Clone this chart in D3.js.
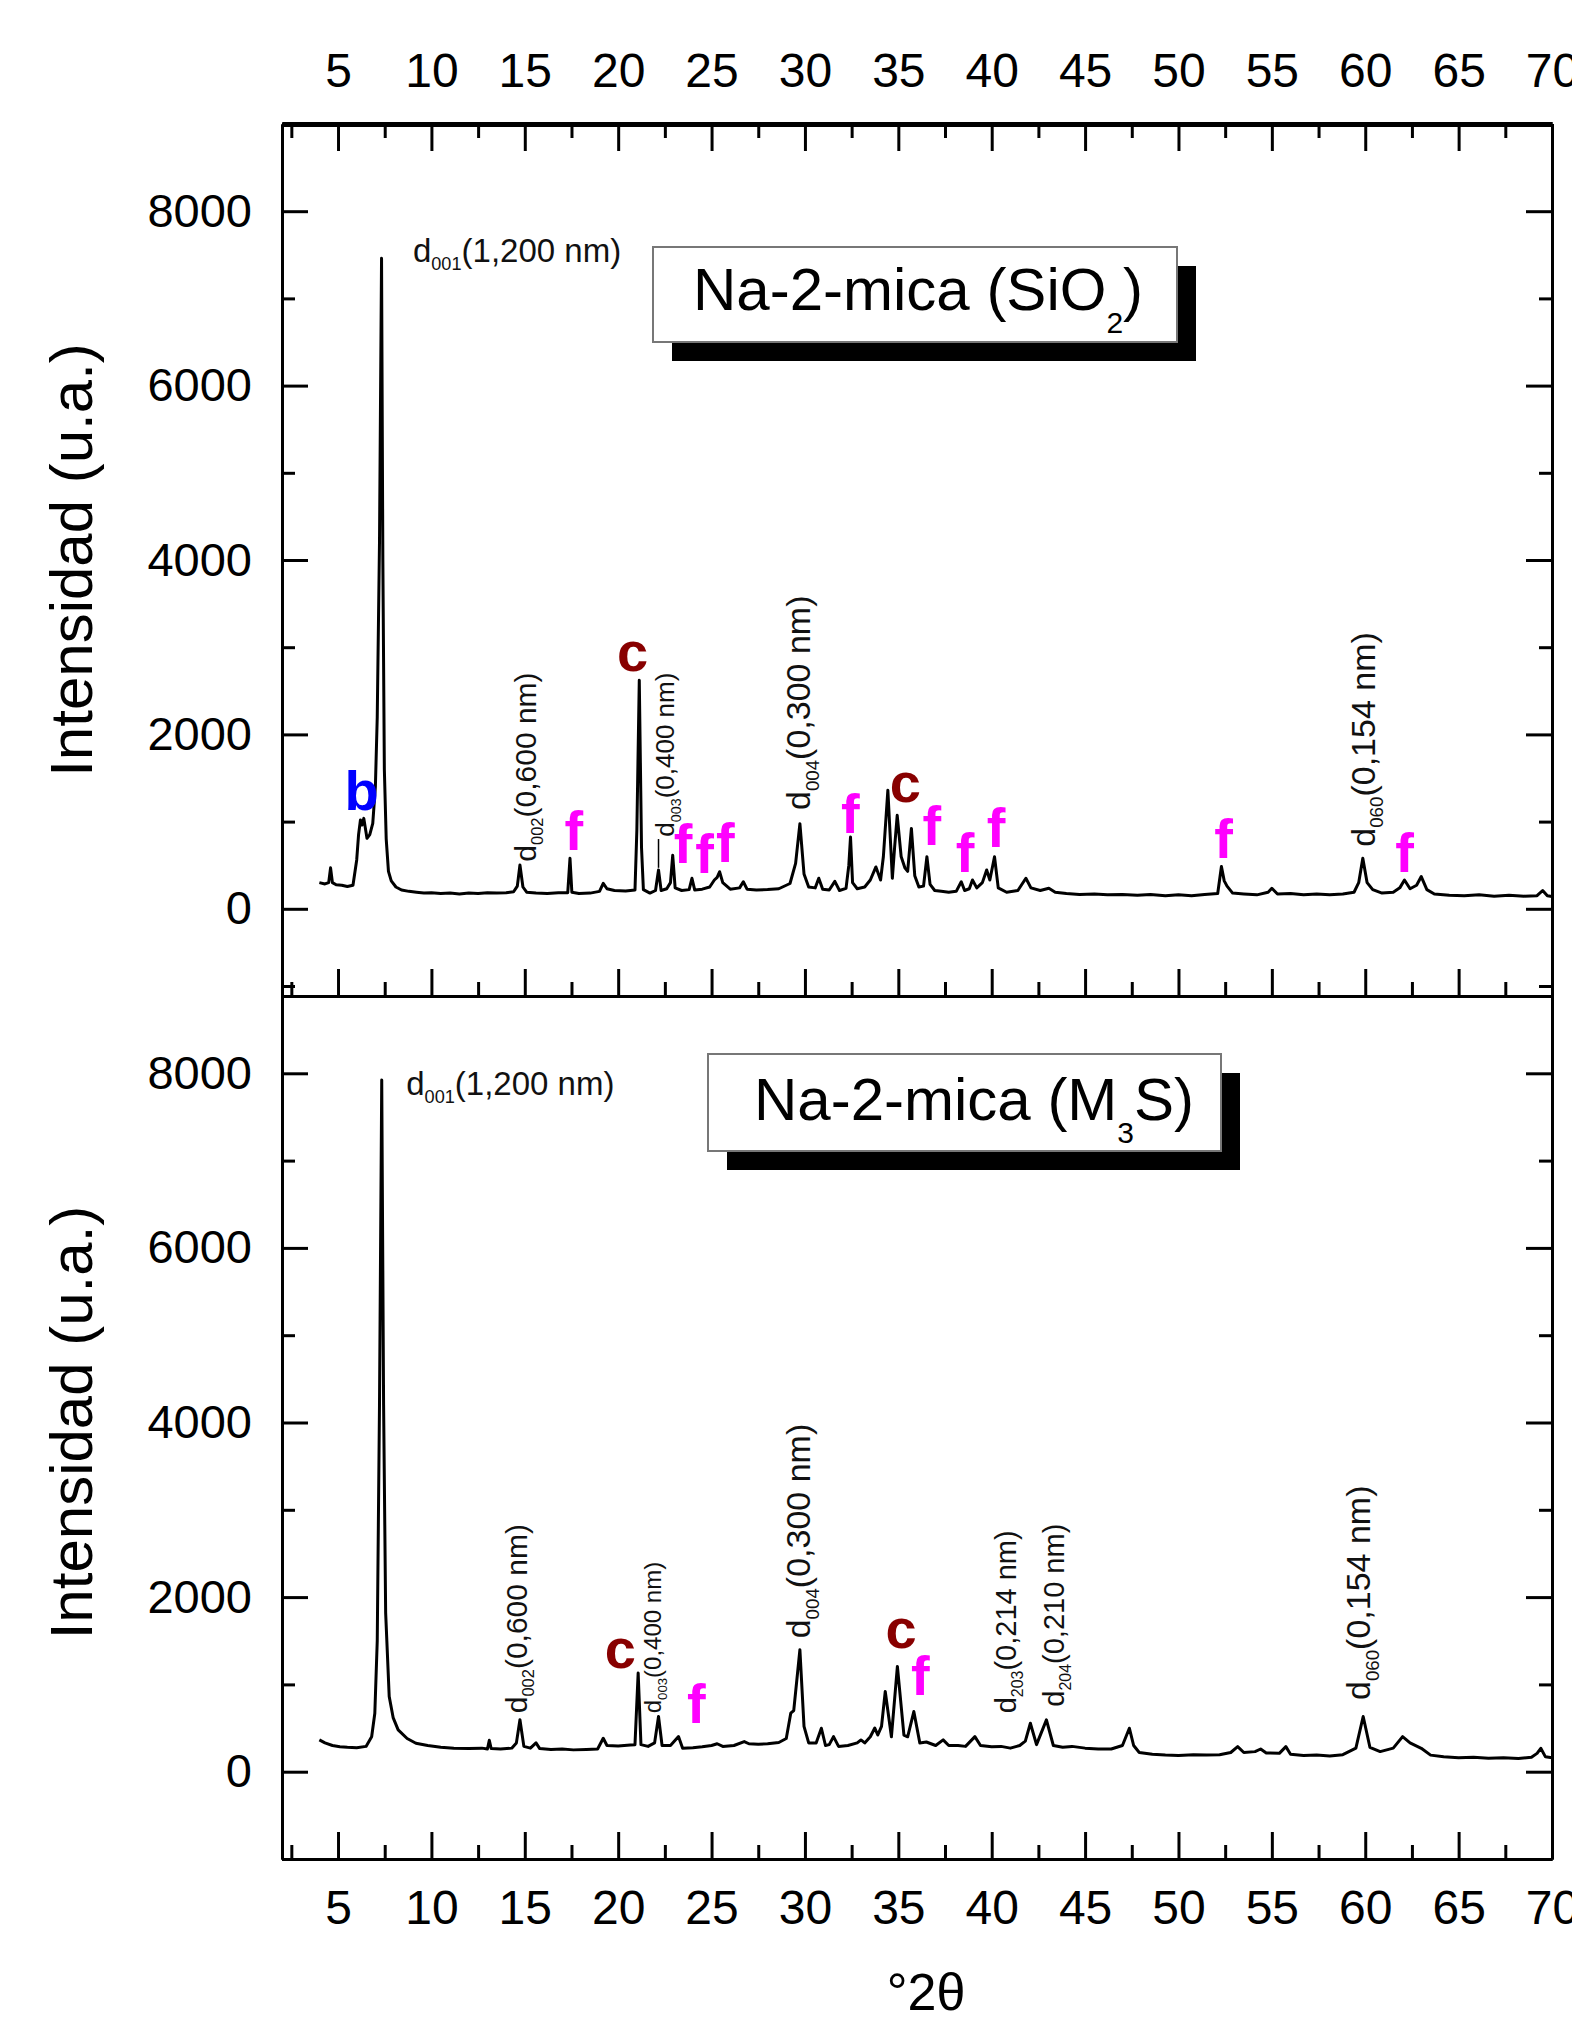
<!DOCTYPE html>
<html>
<head>
<meta charset="utf-8">
<script src="https://cdn.jsdelivr.net/npm/d3@7"></script>
<style>
  body { margin: 0; background: #fff; }
  svg { display: block; font-family: "Liberation Sans", Arial, sans-serif; }
</style>
</head>
<body>
<svg id="chart" width="1572" height="2023"></svg>
<script>
// XRD patterns: [°2θ, intensity]
const topPattern = [
  [4.0,300],[4.3,285],[4.5,300],[4.6,470],[4.7,300],[4.9,275],[5.2,270],[5.5,255],[5.8,270],[6.0,560],
  [6.1,850],[6.2,1018],[6.28,960],[6.38,1037],[6.55,808],[6.7,850],[6.86,980],[7.0,1400],[7.1,2200],[7.22,4200],
  [7.33,7460],[7.4,4000],[7.48,1600],[7.58,800],[7.7,430],[7.85,320],[8.1,250],[8.4,215],[8.8,200],[9.2,190],
  [9.6,180],[10.0,185],[10.5,175],[11.0,180],[11.5,170],[12.0,180],[12.5,175],[13.0,185],[13.5,180],[14.0,185],
  [14.4,195],[14.6,260],[14.74,502],[14.9,250],[15.1,190],[15.6,180],[16.2,175],[16.8,185],[17.3,185],[17.42,579],
  [17.52,190],[17.9,175],[18.5,180],[19.0,200],[19.2,292],[19.4,230],[19.8,210],[20.4,205],[20.9,215],[21.0,900],
  [21.13,2620],[21.25,700],[21.35,220],[21.7,180],[22.0,210],[22.16,445],[22.3,210],[22.6,230],[22.8,300],[22.92,613],
  [23.05,240],[23.4,210],[23.8,220],[23.95,350],[24.1,215],[24.5,225],[24.9,250],[25.15,330],[25.3,360],[25.43,425],
  [25.6,300],[26.0,225],[26.5,240],[26.7,310],[26.9,225],[27.4,215],[28.0,220],[28.6,230],[29.2,290],[29.5,520],
  [29.73,976],[29.95,400],[30.2,250],[30.55,240],[30.74,350],[30.95,225],[31.3,215],[31.6,315],[31.85,210],[32.2,235],
  [32.35,500],[32.44,823],[32.55,300],[32.8,230],[33.2,250],[33.5,330],[33.8,480],[34.05,330],[34.2,600],[34.44,1360],
  [34.68,350],[34.8,700],[34.94,1072],[35.15,600],[35.35,470],[35.5,430],[35.7,922],[35.88,380],[36.1,250],[36.35,260],
  [36.53,597],[36.7,280],[36.95,210],[37.3,200],[37.7,190],[38.1,200],[38.37,310],[38.55,210],[38.8,230],[38.97,330],
  [39.2,240],[39.5,300],[39.73,445],[39.9,330],[40.15,597],[40.35,240],[40.8,190],[41.4,210],[41.83,350],[42.1,240],
  [42.6,210],[43.06,235],[43.4,190],[44.0,175],[44.7,165],[45.5,170],[46.2,160],[47.0,165],[47.8,155],[48.5,165],
  [49.3,150],[50.0,160],[50.7,150],[51.4,165],[52.1,175],[52.3,485],[52.45,320],[52.6,260],[52.9,180],[53.5,170],
  [54.2,160],[54.8,190],[55.0,235],[55.3,170],[56.0,175],[56.7,160],[57.4,170],[58.1,160],[58.8,170],[59.4,190],
  [59.65,300],[59.87,580],[60.1,300],[60.4,220],[60.9,180],[61.5,190],[61.85,240],[62.1,330],[62.4,230],[62.75,270],
  [63.0,370],[63.3,220],[63.7,170],[64.5,155],[65.3,150],[66.1,160],[66.9,145],[67.7,155],[68.5,145],[69.2,150],
  [69.5,210],[69.75,150],[70.0,140]
];

const bottomPattern = [
  [4.0,364],[4.3,330],[4.7,300],[5.1,287],[5.5,280],[6.0,275],[6.5,290],[6.8,400],[6.97,670],[7.1,1500],
  [7.22,4200],[7.34,7924],[7.44,4200],[7.55,1820],[7.74,861],[7.95,620],[8.22,479],[8.7,380],[9.17,326],[9.8,300],
  [10.5,280],[11.2,270],[12.0,265],[12.7,270],[13.0,260],[13.1,360],[13.2,265],[13.7,260],[14.3,270],[14.55,330],
  [14.74,594],[14.95,290],[15.3,270],[15.6,330],[15.8,265],[16.4,255],[17.0,260],[17.6,250],[18.3,255],[18.9,260],
  [19.2,383],[19.4,300],[20.0,295],[20.65,306],[20.9,310],[21.07,1130],[21.22,310],[21.6,290],[21.95,330],[22.16,632],
  [22.35,300],[22.8,300],[23.23,402],[23.45,270],[24.0,275],[24.5,285],[25.0,300],[25.3,320],[25.6,290],[26.2,300],
  [26.75,345],[27.0,320],[27.5,315],[28.0,320],[28.6,335],[29.0,380],[29.24,670],[29.4,700],[29.73,1397],[29.95,520],
  [30.2,330],[30.6,330],[30.88,498],[31.1,300],[31.3,310],[31.53,402],[31.8,290],[32.3,300],[32.8,330],[33.0,364],
  [33.2,330],[33.5,400],[33.74,500],[33.9,420],[34.1,520],[34.3,919],[34.63,400],[34.95,1206],[35.3,420],[35.5,400],
  [35.83,689],[36.15,330],[36.5,340],[37.0,300],[37.4,364],[37.7,300],[38.2,300],[38.6,290],[39.1,402],[39.4,300],
  [40.0,285],[40.5,290],[41.0,270],[41.5,300],[41.8,350],[42.07,555],[42.4,310],[42.93,594],[43.3,300],[43.8,280],
  [44.3,290],[45.0,270],[45.7,260],[46.4,260],[47.0,300],[47.37,498],[47.6,300],[47.9,220],[48.6,200],[49.3,190],
  [50.0,185],[50.8,195],[51.5,190],[52.2,195],[52.8,220],[53.17,287],[53.5,220],[54.1,230],[54.4,260],[54.7,215],
  [55.4,210],[55.75,287],[56.0,200],[56.7,185],[57.4,190],[58.1,180],[58.8,195],[59.5,270],[59.89,632],[60.25,280],
  [60.8,230],[61.5,270],[62.0,402],[62.4,330],[63.0,268],[63.5,190],[64.2,170],[65.0,160],[65.8,165],[66.6,155],
  [67.4,160],[68.2,150],[68.9,165],[69.2,210],[69.4,268],[69.65,170],[70.0,160]
];

// axis ticks
const xMajorTicks = [5,10,15,20,25,30,35,40,45,50,55,60,65,70];
const xMinorTicks = [2.5,7.5,12.5,17.5,22.5,27.5,32.5,37.5,42.5,47.5,52.5,57.5,62.5,67.5];
const yMajorTicks = [0,2000,4000,6000,8000];
const yMinorTicks = [-1000,1000,3000,5000,7000,9000];

// panel titles: [before subscript, subscript, after]
const topTitle = ["Na-2-mica (SiO", "2", ")"];
const bottomTitle = ["Na-2-mica (M", "3", "S)"];

// reflection labels: [°2θ, intensity, hkl, spacing, rotated]
const topReflections = [
  [9.01, 7421, "001", "(1,200 nm)", false],
  [15.58, 540, "002", "(0,600 nm)", true],
  [22.99, 827, "003", "(0,400 nm)", true],
  [30.28, 1133, "004", "(0,300 nm)", true],
  [60.51, 712, "060", "(0,154 nm)", true]
];
const topReflectionSizes = [33, 30, 26, 34, 34];
// leader from the d003 label down to its peak: [°2θ, from, to]
const topLeaders = [[22.16, 470, 800]];

const bottomReflections = [
  [8.65, 7751, "001", "(1,200 nm)", false],
  [15.1, 669, "002", "(0,600 nm)", true],
  [22.27, 669, "003", "(0,400 nm)", true],
  [30.28, 1528, "004", "(0,300 nm)", true],
  [41.28, 669, "203", "(0,214 nm)", true],
  [43.87, 745, "204", "(0,210 nm)", true],
  [60.26, 821, "060", "(0,154 nm)", true]
];
const bottomReflectionSizes = [33, 30, 24, 34, 29, 29, 34];

// phase marks: [°2θ, intensity, letter]
const topPhases = [
  [6.26,1133,"b"],[17.62,674,"f"],[20.77,2731,"c"],[23.47,522,"f"],[24.62,407,"f"],[25.74,540,"f"],
  [32.43,866,"f"],[35.37,1228,"c"],[36.79,732,"f"],[38.57,425,"f"],[40.24,712,"f"],[52.42,579,"f"],[62.11,425,"f"]
];
const bottomPhases = [[20.12,1184,"c"],[24.18,554,"f"],[35.15,1413,"c"],[36.18,879,"f"]];
const phaseColor = { b: "#0000ff", c: "#880000", f: "#ff00ff" };

const svg = d3.select('#chart');
const x = d3.scaleLinear().domain([2, 70]).range([282, 1552]);
const yTop = d3.scaleLinear().domain([-1000, 9000]).range([996, 124]);
const yBot = d3.scaleLinear().domain([-1000, 9000]).range([1859, 986]);

function styleAxis(g, width) {
    g.selectAll('path').attr('stroke', '#000').attr('stroke-width', width);
    g.selectAll('line').attr('stroke', '#000').attr('stroke-width', 3);
    g.selectAll('text').attr('fill', '#000').attr('font-family', '"Liberation Sans", Arial, sans-serif');
}

function drawPanel(y, pattern, reflections, sizes, leaders, phases, title, box, opts) {
    const g = svg.append('g');
    const x0 = x.range()[0], x1 = x.range()[1];
    const yb = y.range()[0], yt = y.range()[1];

    // left axis with labels
    const left = g.append('g').attr('transform', `translate(${x0},0)`)
        .call(d3.axisLeft(y).tickValues(yMajorTicks).tickSize(-26).tickSizeOuter(0).tickPadding(30).tickFormat(d3.format('d')));
    left.selectAll('text').attr('font-size', 47);
    styleAxis(left, 3);
    const leftMinor = g.append('g').attr('transform', `translate(${x0},0)`)
        .call(d3.axisLeft(y).tickValues(yMinorTicks).tickSize(-13).tickSizeOuter(0).tickFormat(''));
    styleAxis(leftMinor, 3);

    // right axis, ticks only
    const right = g.append('g').attr('transform', `translate(${x1},0)`)
        .call(d3.axisRight(y).tickValues(yMajorTicks).tickSize(-26).tickSizeOuter(0).tickFormat(''));
    styleAxis(right, 3);
    const rightMinor = g.append('g').attr('transform', `translate(${x1},0)`)
        .call(d3.axisRight(y).tickValues(yMinorTicks).tickSize(-13).tickSizeOuter(0).tickFormat(''));
    styleAxis(rightMinor, 3);

    // bottom axis
    const bottom = g.append('g').attr('transform', `translate(0,${yb})`)
        .call(d3.axisBottom(x).tickValues(xMajorTicks).tickSize(-27).tickSizeOuter(0).tickPadding(31)
            .tickFormat(opts.bottomLabels ? d3.format('d') : ''));
    bottom.selectAll('text').attr('font-size', 48);
    styleAxis(bottom, 3);
    const bottomMinor = g.append('g').attr('transform', `translate(0,${yb})`)
        .call(d3.axisBottom(x).tickValues(xMinorTicks).tickSize(-14).tickSizeOuter(0).tickFormat(''));
    styleAxis(bottomMinor, 3);

    // top axis (only the upper panel shows one)
    if (opts.topAxis) {
        const top = g.append('g').attr('transform', `translate(0,${yt})`)
            .call(d3.axisTop(x).tickValues(xMajorTicks).tickSize(-27).tickSizeOuter(0).tickPadding(37).tickFormat(d3.format('d')));
        top.selectAll('text').attr('font-size', 48);
        styleAxis(top, 5);
        const topMinor = g.append('g').attr('transform', `translate(0,${yt})`)
            .call(d3.axisTop(x).tickValues(xMinorTicks).tickSize(-14).tickSizeOuter(0).tickFormat(''));
        styleAxis(topMinor, 5);
    }

    // y label
    g.append('text')
        .attr('transform', `translate(92,${(yt + yb) / 2}) rotate(-90)`)
        .attr('text-anchor', 'middle')
        .attr('font-size', 60)
        .text('Intensidad (u.a.)');

    // the pattern
    const line = d3.line().x(d => x(d[0])).y(d => y(d[1]));
    g.append('path')
        .datum(pattern)
        .attr('fill', 'none')
        .attr('stroke', '#000')
        .attr('stroke-width', 3)
        .attr('stroke-linejoin', 'round')
        .attr('d', line);

    // title box with drop shadow
    g.append('rect')
        .attr('x', box.x + 19).attr('y', box.y + 19)
        .attr('width', box.w).attr('height', box.h)
        .attr('fill', '#000');
    g.append('rect')
        .attr('x', box.x).attr('y', box.y)
        .attr('width', box.w).attr('height', box.h)
        .attr('fill', '#fff').attr('stroke', '#777').attr('stroke-width', 2);
    const t = g.append('text')
        .attr('x', box.tx).attr('y', box.ty)
        .attr('font-size', 60);
    t.append('tspan').text(title[0]);
    t.append('tspan').attr('font-size', 30).attr('dy', 23).text(title[1]);
    t.append('tspan').attr('dy', -23).text(title[2]);

    // reflection labels
    reflections.forEach((r, i) => {
        const s = sizes[i];
        const label = g.append('text')
            .attr('font-size', s)
            .attr('fill', '#111');
        if (r[4]) {
            label.attr('transform', `translate(${x(r[0])},${y(r[1])}) rotate(-90)`);
        } else {
            label.attr('x', x(r[0])).attr('y', y(r[1]));
        }
        label.append('tspan').text('d');
        label.append('tspan').attr('font-size', s * 0.55).attr('dy', s * 0.25).text(r[2]);
        label.append('tspan').attr('dy', -s * 0.25).text(r[3]);
    });

    leaders.forEach(l => {
        g.append('line')
            .attr('x1', x(l[0])).attr('x2', x(l[0]))
            .attr('y1', y(l[1])).attr('y2', y(l[2]))
            .attr('stroke', '#000').attr('stroke-width', 1.5);
    });

    // phase marks
    g.selectAll('.phase')
        .data(phases)
        .enter()
        .append('text')
        .attr('class', 'phase')
        .attr('x', d => x(d[0]))
        .attr('y', d => y(d[1]))
        .attr('text-anchor', 'middle')
        .attr('font-size', 56)
        .attr('font-weight', 'bold')
        .attr('fill', d => phaseColor[d[2]])
        .text(d => d[2]);
}

drawPanel(yBot, bottomPattern, bottomReflections, bottomReflectionSizes, [], bottomPhases, bottomTitle,
    { x: 708, y: 1054, w: 513, h: 97, tx: 754, ty: 1120 }, { topAxis: false, bottomLabels: true });
drawPanel(yTop, topPattern, topReflections, topReflectionSizes, topLeaders, topPhases, topTitle,
    { x: 653, y: 247, w: 524, h: 95, tx: 693, ty: 310 }, { topAxis: true, bottomLabels: false });

// x label
svg.append('text')
    .attr('x', 926).attr('y', 2010)
    .attr('text-anchor', 'middle')
    .attr('font-size', 52)
    .text('°2θ');
</script>
</body>
</html>
